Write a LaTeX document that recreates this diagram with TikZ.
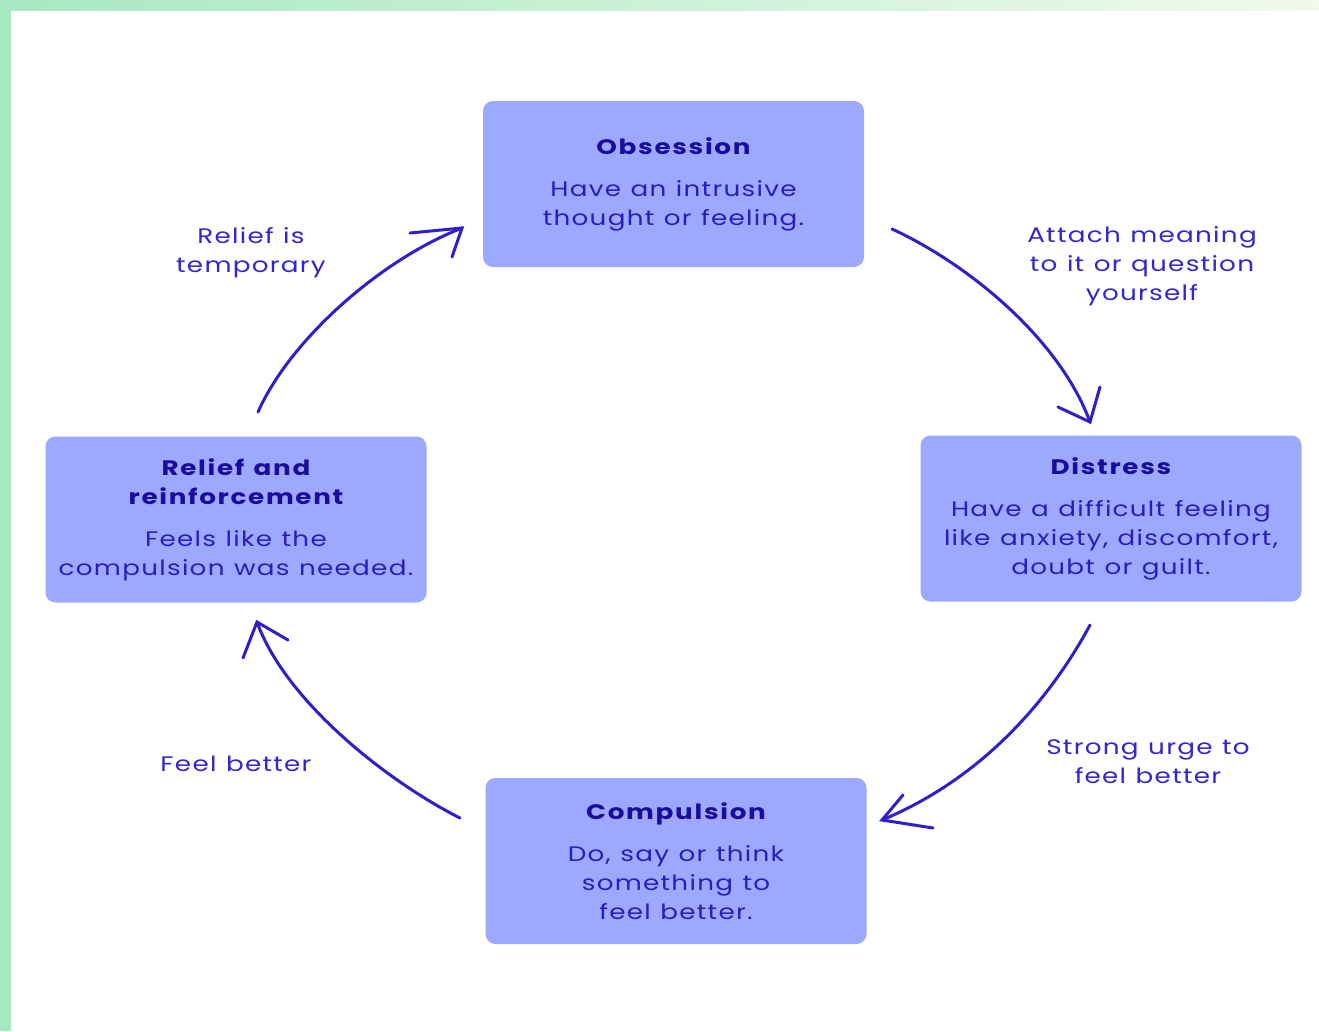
\documentclass[tikz,border=0pt]{standalone}
\usepackage{fontspec}
\setmainfont{Poppins}[FakeStretch=1.25, LetterSpace=6, WordSpace=1.15]
\newfontfamily\titlefont{Poppins}[FakeStretch=1.25, LetterSpace=8, WordSpace=1.3, UprightFont=*-Bold]
\definecolor{boxfill}{HTML}{9DA8FF}
\definecolor{titlecol}{HTML}{1A0C9C}
\definecolor{bodycol}{HTML}{2A1DBA}
\definecolor{labelcol}{HTML}{3326D2}
\definecolor{arrowcol}{HTML}{2E1FC9}
\definecolor{greenA}{HTML}{A6E9C0}
\definecolor{greenB}{HTML}{F2F9EF}
\begin{document}
\begin{tikzpicture}[x=1pt,y=-1pt,
  box/.style={fill=boxfill, rounded corners=10pt, minimum width=381pt, minimum height=166pt,
    inner sep=0pt, align=center, text=bodycol, font=\fontsize{21}{29}\selectfont},
  lbl/.style={align=center, text=labelcol, font=\fontsize{21}{29}\selectfont, inner sep=0pt},
  arr/.style={draw=arrowcol, line width=3pt, line cap=round, line join=round},
  head/.style={draw=arrowcol, line width=3pt, line cap=round, line join=miter}]
\useasboundingbox (0,0) rectangle (1319,1031);
\fill[white] (0,0) rectangle (1319,1031);
\fill[greenA] (0,0) rectangle (11,1031);
\shade[left color=greenA, right color=greenB] (0,0) rectangle (1319,10);
\fill[greenA] (0,0) rectangle (11,10);
\newcommand{\ttl}[1]{{\color{titlecol}\titlefont #1}}
\node[box] (obs) at (673.5,184) {\ttl{Obsession}\\[13pt]Have an intrusive\\thought or feeling.};
\node[box] (dis) at (1111,518.5) {\ttl{Distress}\\[13pt]Have a difficult feeling\\like anxiety, discomfort,\\doubt or guilt.};
\node[box] (com) at (676,861) {\ttl{Compulsion}\\[13pt]Do, say or think\\something to\\feel better.};
\node[box] (rel) at (236,519.5) {\ttl{Relief and}\\\ttl{reinforcement}\\[13pt]Feels like the\\compulsion was needed.};
\node[lbl] (l1) at (1142,266) {Attach meaning\\to it or question\\yourself};
\node[lbl] (l2) at (1148,762) {Strong urge to\\feel better};
\node[lbl] (l3) at (236,763.5) {Feel better};
\node[lbl] (l4) at (251,253) {Relief is\\temporary};
% arrow endpoints
\coordinate (a1s) at (892,229); \coordinate (a1t) at (1090,422);
\coordinate (a2s) at (1090,625); \coordinate (a2t) at (882,820);
\coordinate (a3s) at (460,818); \coordinate (a3t) at (257,622);
\coordinate (a4s) at (258,412); \coordinate (a4t) at (462,228);
\draw[arr] (a1s) .. controls (970,265) and (1060,340) .. (a1t);
\draw[head] (1058,407) -- (a1t) -- (1100,387);
\draw[arr] (a2s) .. controls (1055,690) and (990,775) .. (a2t);
\draw[head] (903,795) -- (a2t) -- (933,828);
\draw[arr] (a3s) .. controls (385,780) and (285,700) .. (a3t);
\draw[head] (243,658) -- (a3t) -- (288,640);
\draw[arr] (a4s) .. controls (290,340) and (380,260) .. (a4t);
\draw[head] (410,233) -- (a4t) -- (452,257);
\end{tikzpicture}
\end{document}
